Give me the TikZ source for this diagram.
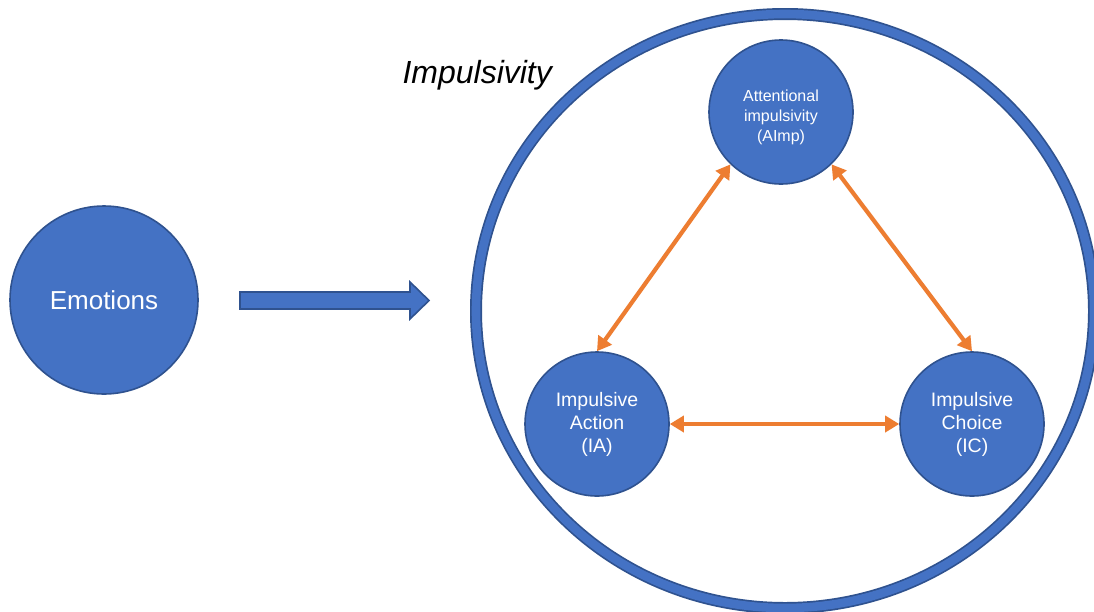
\documentclass[tikz,border=0pt]{standalone}
\usepackage{fontspec}
\setmainfont{Liberation Sans}
\usetikzlibrary{arrows.meta}
\definecolor{fillblue}{HTML}{4472C4}
\definecolor{edgeblue}{HTML}{2F528F}
\definecolor{linkorange}{HTML}{ED7D31}
\begin{document}
\begin{tikzpicture}[x=1pt,y=-1pt,
  bubble/.style={circle,draw=edgeblue,line width=1.6pt,fill=fillblue,
    text=white,align=center,inner sep=0pt,minimum size=144pt},
  link/.style={draw=linkorange,line width=4.2pt,
    {Triangle[length=14pt,width=16pt]}-{Triangle[length=14pt,width=16pt]}}]
\useasboundingbox (0,0) rectangle (1094,611);
\fill[white] (0,0) rectangle (1094,611);

% outer ring around the three facets
\draw[edgeblue,line width=12pt] (785,311) ellipse [x radius=309,y radius=297];
\draw[fillblue,line width=8.6pt] (785,311) ellipse [x radius=309,y radius=297];

\node[anchor=base west,font=\fontsize{32}{38}\selectfont\itshape] (title) at (399,83) {Impulsivity};

% left source circle
\node[bubble,minimum size=188pt,font=\fontsize{26}{30}\selectfont] (emo) at (104,300) {Emotions};

% block arrow
\filldraw[fill=fillblue,draw=edgeblue,line width=1.6pt,line join=miter]
  (240,292) -- (410,292) -- (410,282) -- (429,300.5) -- (410,319) -- (410,309) -- (240,309) -- cycle;

% facets of impulsivity
\node[bubble,font=\fontsize{16}{20}\selectfont] (aimp) at (781,112) {\rule{0pt}{5pt}\\[-2pt]Attentional\\impulsivity\\(AImp)};
\node[bubble,font=\fontsize{19.5}{23}\selectfont] (ia) at (597,424) {\rule{0pt}{5pt}\\[-13pt]Impulsive\\Action\\(IA)};
\node[bubble,font=\fontsize{19.5}{23}\selectfont] (ic) at (972,424) {\rule{0pt}{5pt}\\[-13pt]Impulsive\\Choice\\(IC)};

% reciprocal links
\draw[link] (aimp.-134) -- (ia.north);
\draw[link] (aimp.-46) -- (ic.north);
\draw[link] (ia.east) -- (ic.west);
\end{tikzpicture}
\end{document}
